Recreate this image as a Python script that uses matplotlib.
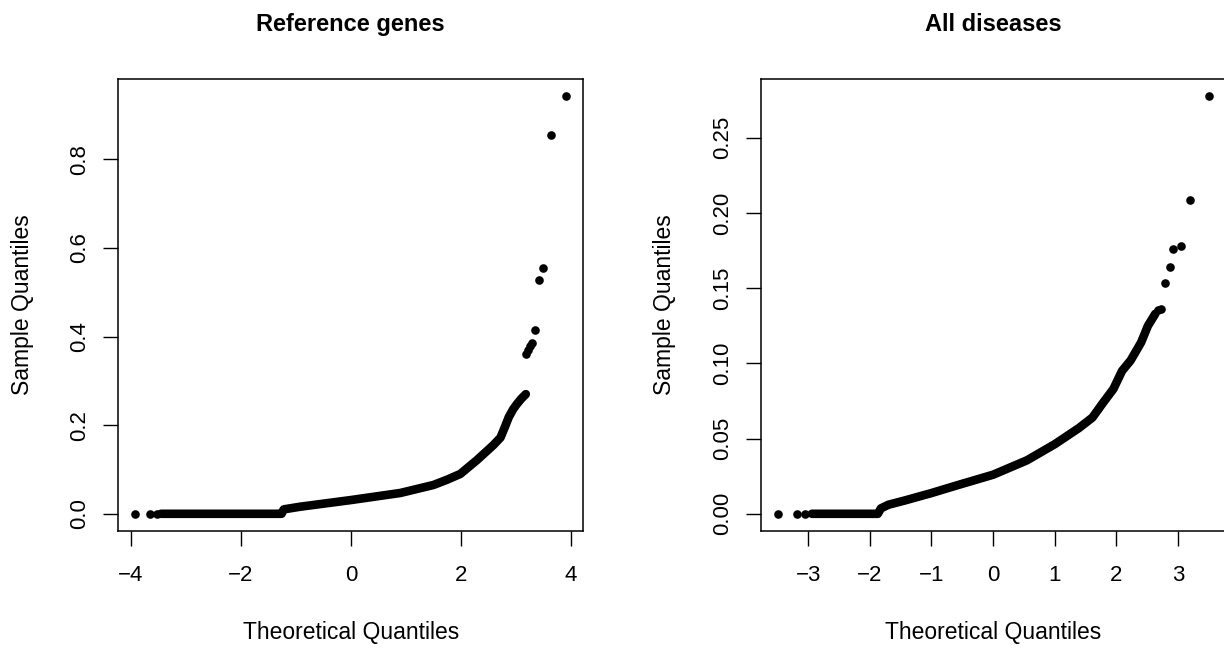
import matplotlib.pyplot as plt

plt.rcParams['font.family'] = ['Liberation Sans', 'DejaVu Sans']

# Reference genes: dense body of the QQ curve (theoretical, sample quantiles)
ref_body_x = [-3.45, -1.26, -1.22, -0.92, 0.0, 0.90, 1.50, 1.75, 1.99,
              2.29, 2.59, 2.72, 2.80, 2.87, 2.95, 3.02, 3.10, 3.18]
ref_body_y = [0.0, 0.0, 0.010, 0.016, 0.031, 0.047, 0.065, 0.077, 0.090,
              0.121, 0.155, 0.172, 0.196, 0.218, 0.236, 0.248, 0.260, 0.270]
# Reference genes: separate points in the tails
ref_tail_x = [-3.92, -3.65, -3.53, 3.18, 3.22, 3.26, 3.30, 3.345, 3.42, 3.50, 3.64, 3.915]
ref_tail_y = [0.0, 0.0, 0.0, 0.361, 0.369, 0.379, 0.385, 0.414, 0.527, 0.554, 0.855, 0.9435]

# All diseases: dense body of the QQ curve
dis_body_x = [-2.94, -1.87, -1.82, -1.70, -1.42, -1.0, -0.58, 0.0, 0.55, 1.0,
              1.39, 1.61, 1.78, 1.95, 2.09, 2.23, 2.40, 2.51, 2.63]
dis_body_y = [0.0, 0.0, 0.0036, 0.006, 0.009, 0.0138, 0.019, 0.026, 0.0356, 0.0463,
              0.057, 0.064, 0.0737, 0.083, 0.095, 0.102, 0.114, 0.125, 0.133]
# All diseases: separate points in the tails
dis_tail_x = [-3.49, -3.18, -3.05, 2.68, 2.73, 2.78, 2.86, 2.92, 3.04, 3.19, 3.50]
dis_tail_y = [0.0, 0.0, 0.0, 0.1355, 0.136, 0.1533, 0.164, 0.1763, 0.1778, 0.2084, 0.278]

panels = [
    ("Reference genes", ref_body_x, ref_body_y, ref_tail_x, ref_tail_y,
     [-4, -2, 0, 2, 4], [0.0, 0.2, 0.4, 0.6, 0.8], "{:.1f}"),
    ("All diseases", dis_body_x, dis_body_y, dis_tail_x, dis_tail_y,
     [-3, -2, -1, 0, 1, 2, 3], [0.0, 0.05, 0.10, 0.15, 0.20, 0.25], "{:.2f}"),
]
lefts = [0.0964, 0.6215]

fig = plt.figure(figsize=(12.24, 6.48), dpi=100)
ms = 6.2

for left, (title, bx, by, tx, ty, xt, yt, fmt) in zip(lefts, panels):
    ax = fig.add_axes([left, 0.1813, 0.3803, 0.6968])
    ax.plot(bx, by, color='black', lw=ms, solid_capstyle='round',
            solid_joinstyle='round')
    ax.plot(tx, ty, 'o', color='black', ms=ms, mew=0)

    # R-style 4% padding around the data range
    allx = bx + tx
    ally = by + ty
    rx = max(allx) - min(allx)
    ry = max(ally) - min(ally)
    ax.set_xlim(min(allx) - 0.04 * rx, max(allx) + 0.04 * rx)
    ax.set_ylim(min(ally) - 0.04 * ry, max(ally) + 0.04 * ry)

    ax.set_xticks(xt)
    ax.set_xticklabels([str(v).replace('-', '\u2212') for v in xt])
    ax.set_yticks(yt)
    ax.set_yticklabels([fmt.format(v) for v in yt], rotation=90, va='center')
    ax.tick_params(axis='both', length=10.5, width=1.0, labelsize=16, color='black')
    ax.tick_params(axis='x', pad=14.5)
    ax.tick_params(axis='y', pad=9.5)
    for s in ax.spines.values():
        s.set_linewidth(1.1)

    ax.set_title(title, fontsize=17, fontweight='bold', y=1.12, pad=0, va='center')
    ax.set_xlabel("Theoretical Quantiles", fontsize=16.5)
    ax.xaxis.set_label_coords(0.5, -0.226)
    ax.xaxis.label.set_va('center')
    ax.set_ylabel("Sample Quantiles", fontsize=16.5)
    ax.yaxis.set_label_coords(-0.206, 0.5)
    ax.yaxis.label.set_va('center')

fig.savefig('out.png', dpi=100)
